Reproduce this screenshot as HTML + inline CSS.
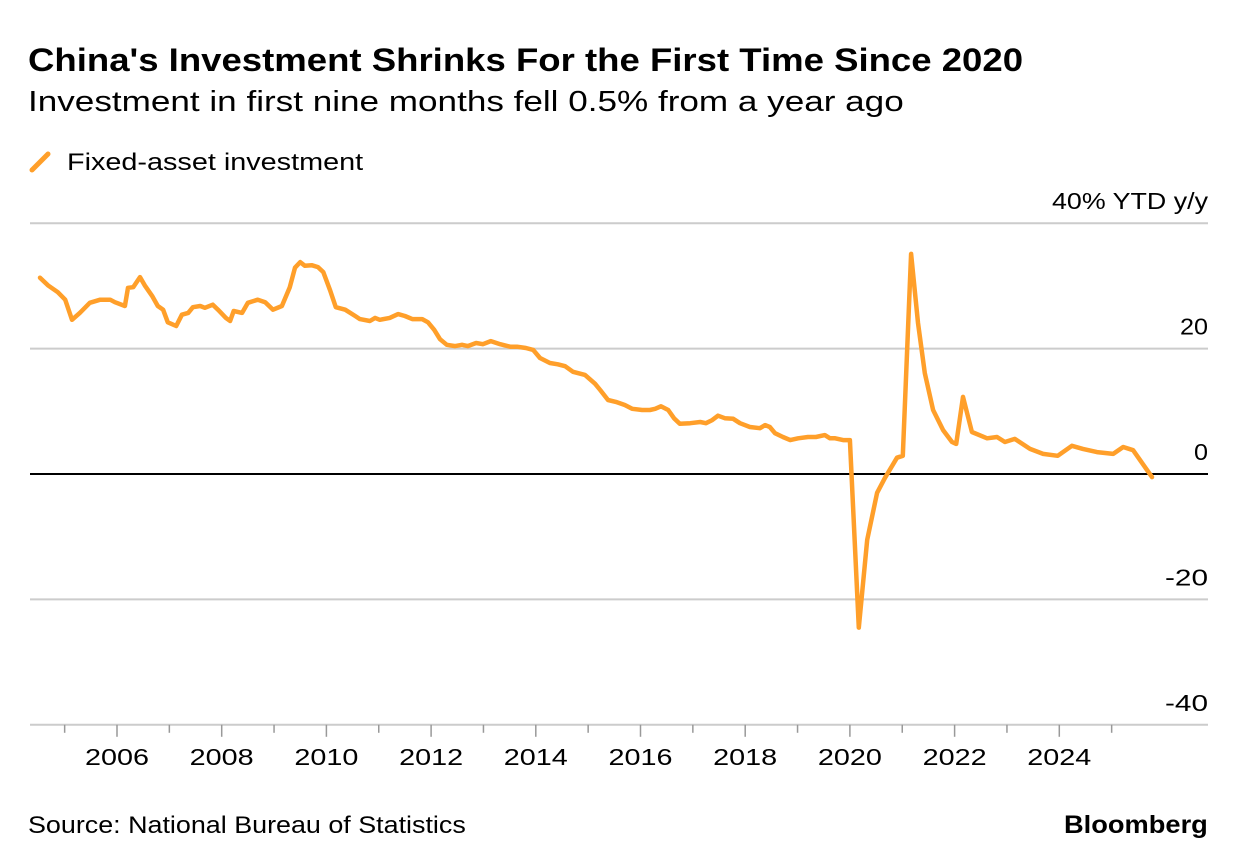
<!DOCTYPE html>
<html><head><meta charset="utf-8"><style>
body{margin:0;background:#fff;width:1237px;height:868px;overflow:hidden;font-family:"Liberation Sans",sans-serif;color:#000}
.t{position:absolute;white-space:nowrap;transform-origin:0 0}
</style></head><body>
<div class="t" style="left:28px;top:42px;font-size:32px;font-weight:bold;transform:scaleX(1.142)">China's Investment Shrinks For the First Time Since 2020</div>
<div class="t" style="left:28px;top:86px;font-size:29px;transform:scaleX(1.21)">Investment in first nine months fell 0.5% from a year ago</div>
<div class="t" style="left:28px;top:148px;font-size:24px"><svg width="26" height="26" style="vertical-align:-4px"><line x1="4" y1="22" x2="20" y2="6" stroke="#ff9f2a" stroke-width="5" stroke-linecap="round"/></svg><span style="margin-left:13px;display:inline-block;transform:scaleX(1.2);transform-origin:0 0">Fixed-asset investment</span></div>
<svg id="chart" width="1237" height="868" style="position:absolute;left:0;top:0" font-family="Liberation Sans, sans-serif"></svg>
<div class="t" style="left:28px;top:812px;font-size:24px;transform:scaleX(1.12)">Source: National Bureau of Statistics</div>
<div class="t" style="left:1064px;top:811px;font-size:25px;font-weight:bold;transform:scaleX(1.09)">Bloomberg</div>
<script>
const dates=[2004.53,2004.68,2004.87,2005.01,2005.14,2005.29,2005.48,2005.68,2005.87,2005.96,2006.15,2006.21,2006.31,2006.44,2006.53,2006.67,2006.78,2006.88,2006.97,2007.13,2007.24,2007.36,2007.45,2007.59,2007.68,2007.83,2007.93,2008.08,2008.16,2008.23,2008.39,2008.50,2008.69,2008.83,2008.98,2009.15,2009.30,2009.40,2009.50,2009.59,2009.72,2009.84,2009.94,2010.07,2010.18,2010.36,2010.55,2010.64,2010.83,2010.93,2011.02,2011.21,2011.37,2011.50,2011.64,2011.83,2011.94,2012.06,2012.17,2012.30,2012.46,2012.59,2012.70,2012.86,2012.99,2013.14,2013.32,2013.51,2013.64,2013.81,2013.95,2014.08,2014.27,2014.42,2014.56,2014.71,2014.94,2015.13,2015.23,2015.38,2015.53,2015.70,2015.84,2016.03,2016.18,2016.28,2016.39,2016.53,2016.64,2016.75,2016.95,2017.14,2017.25,2017.37,2017.48,2017.61,2017.77,2017.90,2018.09,2018.28,2018.38,2018.47,2018.57,2018.72,2018.86,2019.01,2019.20,2019.35,2019.52,2019.62,2019.72,2019.87,2020.00,2020.17,2020.33,2020.52,2020.67,2020.90,2021.01,2021.17,2021.30,2021.43,2021.59,2021.78,2021.95,2022.03,2022.16,2022.33,2022.62,2022.81,2022.96,2023.15,2023.44,2023.69,2023.97,2024.24,2024.45,2024.72,2025.03,2025.22,2025.41,2025.77];
const values=[31.3,30.1,29.0,27.8,24.6,25.7,27.3,27.8,27.8,27.4,26.8,29.7,29.8,31.4,30.1,28.4,26.8,26.2,24.2,23.6,25.4,25.7,26.6,26.8,26.5,27.0,26.2,24.9,24.4,26.0,25.7,27.3,27.8,27.4,26.2,26.8,29.8,32.9,33.8,33.2,33.3,33.0,32.2,29.3,26.6,26.2,25.2,24.7,24.4,24.9,24.6,24.9,25.5,25.2,24.7,24.7,24.2,23.0,21.5,20.6,20.4,20.6,20.4,20.9,20.7,21.2,20.7,20.3,20.3,20.1,19.8,18.5,17.7,17.5,17.2,16.3,15.8,14.4,13.4,11.8,11.5,11.0,10.4,10.2,10.2,10.4,10.8,10.2,8.9,8.0,8.1,8.3,8.1,8.6,9.3,8.9,8.8,8.1,7.5,7.3,7.8,7.5,6.5,5.9,5.4,5.7,5.9,5.9,6.2,5.7,5.7,5.4,5.4,-24.5,-10.5,-3.0,-0.6,2.6,2.9,35.1,24.1,16.1,10.2,7.0,5.1,4.8,12.3,6.7,5.7,5.9,5.1,5.6,4.0,3.2,2.9,4.5,4.0,3.5,3.2,4.3,3.8,-0.5];
const yTicks=[40,20,0,-20,-40];
const yLabels=["40% YTD y/y","20","0","-20","-40"];
const xLabels=[2006,2008,2010,2012,2014,2016,2018,2020,2022,2024];
const svg=document.getElementById('chart');const NS='http://www.w3.org/2000/svg';
const X=d=>117+(d-2006)*52.35, Y=v=>474-v*6.27;
function mk(t,a){const e=document.createElementNS(NS,t);for(const k in a)e.setAttribute(k,a[k]);svg.appendChild(e);return e;}
yTicks.forEach((v,i)=>{
 const l=mk('line',{x1:30,x2:1208,y1:Y(v),y2:Y(v),stroke:v===0?'#000':'#ccc','stroke-width':2});
 
 
 const s=yLabels[i];
 const t=mk('text',{x:1208,y:Y(v)-14,'text-anchor':'end','font-size':23,textLength:(s.length*14.2).toFixed(0),lengthAdjust:'spacingAndGlyphs'});t.textContent=s;
 
 
});
for(let yr=2005;yr<=2025;yr++){const tk=mk('line',{x1:X(yr),x2:X(yr),y1:Y(-40),y2:Y(-40)+(yr%2===0?12:8),stroke:'#999','stroke-width':1.5});
 
 }
xLabels.forEach(yr=>{const t=mk('text',{x:X(yr),y:765,'text-anchor':'middle','font-size':23,textLength:64,lengthAdjust:'spacingAndGlyphs'});t.textContent=yr;
 
 });
const p=mk('path',{d:dates.map((d,i)=>(i?'L':'M')+X(d).toFixed(1)+','+Y(values[i]).toFixed(1)).join(''),fill:'none',stroke:'#ff9f2a','stroke-width':4.5,'stroke-linejoin':'round','stroke-linecap':'round'});


</script>
</body></html>
